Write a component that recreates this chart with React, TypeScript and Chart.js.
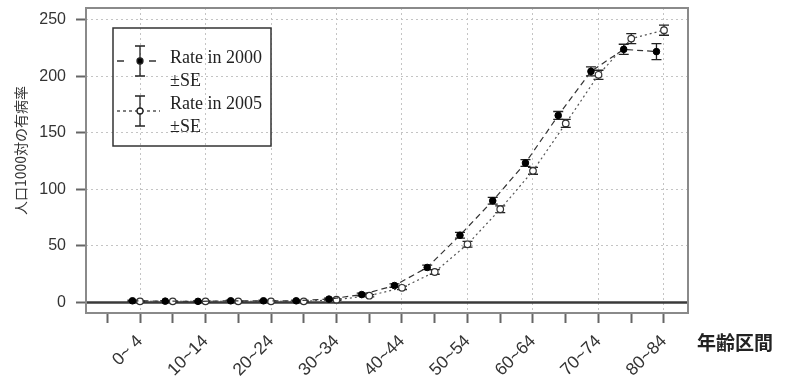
import React, { useEffect, useRef } from "react";
import { Chart, registerables } from "chart.js";

Chart.register(...registerables);

// ---- data ----
const ageGroups = [
  "0~ 4", "5~ 9", "10~14", "15~19", "20~24", "25~29", "30~34", "35~39", "40~44",
  "45~49", "50~54", "55~59", "60~64", "65~69", "70~74", "75~79", "80~84",
];
const rate2000 = [1.5, 1.2, 1.0, 1.5, 1.5, 1.5, 3.0, 7.0, 15.0, 31.0, 59.5, 90.0, 123.5, 165.5, 204.5, 224.0, 222.0];
const se2000 = [0.5, 0.4, 0.4, 0.5, 0.5, 0.6, 0.8, 1.2, 1.5, 2.0, 2.5, 3.0, 3.0, 3.5, 4.0, 4.5, 7.0];
const rate2005 = [1.0, 1.0, 1.0, 1.0, 1.0, 1.0, 2.5, 6.0, 13.0, 27.0, 51.5, 82.5, 116.5, 158.5, 201.5, 233.5, 241.0];
const se2005 = [0.4, 0.4, 0.4, 0.4, 0.4, 0.5, 0.7, 1.0, 1.5, 2.0, 2.5, 3.0, 3.0, 3.5, 4.0, 4.5, 4.5];
const yTickValues = [0, 50, 100, 150, 200, 250];
const legendLabels = ["Rate in 2000", "±SE", "Rate in 2005", "±SE"];
const xTitle = "年齢区間";
const yTitle = "人口1000対の有病率";
const offset2000 = -0.23;

const decorPlugin = {
  id: "decor",
  beforeDatasetsDraw(chart: any) {
    const { ctx, chartArea: a, scales } = chart;
    const x = scales.x;
    const y = scales.y;
    ctx.save();
    // zero line
    const y0 = y.getPixelForValue(0);
    ctx.strokeStyle = "#3a3a3a";
    ctx.lineWidth = 2.5;
    ctx.beginPath();
    ctx.moveTo(a.left, y0);
    ctx.lineTo(a.right, y0);
    ctx.stroke();
    // error bars
    chart.data.datasets.forEach((ds: any) => {
      const se: number[] = ds.se;
      ds.data.forEach((p: any, i: number) => {
        const px = x.getPixelForValue(p.x);
        const top = y.getPixelForValue(p.y + se[i]);
        const bot = y.getPixelForValue(p.y - se[i]);
        ctx.strokeStyle = "#222";
        ctx.lineWidth = 1.3;
        ctx.setLineDash([]);
        ctx.beginPath();
        ctx.moveTo(px, top);
        ctx.lineTo(px, bot);
        ctx.moveTo(px - 5, top);
        ctx.lineTo(px + 5, top);
        ctx.moveTo(px - 5, bot);
        ctx.lineTo(px + 5, bot);
        ctx.stroke();
      });
    });
    ctx.restore();
  },
  afterDraw(chart: any) {
    const { ctx, chartArea: a } = chart;
    ctx.save();
    // frame
    ctx.strokeStyle = "#8a8a8a";
    ctx.lineWidth = 2;
    ctx.strokeRect(a.left, a.top, a.right - a.left, a.bottom - a.top);

    // legend
    const lx = a.left + 27;
    const ly = a.top + 20;
    ctx.strokeStyle = "#333";
    ctx.lineWidth = 1.5;
    ctx.strokeRect(lx, ly, 158, 118);

    const drawSymbol = (cx: number, cy: number, dash: number[], filled: boolean, color: string) => {
      ctx.save();
      ctx.strokeStyle = color;
      ctx.lineWidth = 1.3;
      ctx.setLineDash(dash);
      ctx.beginPath();
      ctx.moveTo(cx - 23, cy);
      ctx.lineTo(cx + 20, cy);
      ctx.stroke();
      ctx.setLineDash([]);
      ctx.strokeStyle = "#222";
      ctx.beginPath();
      ctx.moveTo(cx, cy - 15);
      ctx.lineTo(cx, cy + 15);
      ctx.moveTo(cx - 5, cy - 15);
      ctx.lineTo(cx + 5, cy - 15);
      ctx.moveTo(cx - 5, cy + 15);
      ctx.lineTo(cx + 5, cy + 15);
      ctx.stroke();
      ctx.beginPath();
      ctx.arc(cx, cy, 3, 0, Math.PI * 2);
      ctx.fillStyle = filled ? "#000" : "#fff";
      ctx.fill();
      ctx.stroke();
      ctx.restore();
    };
    drawSymbol(lx + 27, ly + 33, [7, 25], true, "#333");
    drawSymbol(lx + 27, ly + 83, [3, 3], false, "#555");

    ctx.fillStyle = "#222";
    ctx.font = "18px 'Liberation Serif', serif";
    ctx.textAlign = "left";
    ctx.textBaseline = "middle";
    const offs = [30, 53, 76, 99];
    legendLabels.forEach((t, i) => ctx.fillText(t, lx + 57, ly + offs[i]));

    // x title
    ctx.fillStyle = "#222";
    ctx.font = "bold 19px 'Noto Sans CJK JP', sans-serif";
    ctx.textAlign = "left";
    ctx.textBaseline = "middle";
    ctx.fillText(xTitle, a.right + 9, a.bottom + 30);

    // y title
    ctx.save();
    ctx.translate(a.left - 65, (a.top + a.bottom) / 2 - 10);
    ctx.rotate(-Math.PI / 2);
    ctx.font = "14px 'Noto Sans CJK JP', sans-serif";
    ctx.fillStyle = "#333";
    ctx.textAlign = "center";
    ctx.textBaseline = "middle";
    ctx.fillText(yTitle, 0, 0);
    ctx.restore();

    ctx.restore();
  },
};

export default function App() {
  const ref = useRef<HTMLCanvasElement | null>(null);
  useEffect(() => {
    if (!ref.current) return;
    const chart = new Chart(ref.current, {
      type: "line",
      data: {
        datasets: [
          {
            label: "Rate in 2000",
            data: rate2000.map((v, i) => ({ x: i + 1 + offset2000, y: v })),
            se: se2000,
            borderColor: "#333",
            borderWidth: 1.2,
            borderDash: [6, 4],
            pointRadius: 3.3,
            pointBackgroundColor: "#000",
            pointBorderColor: "#000",
            pointBorderWidth: 1,
            tension: 0,
          } as any,
          {
            label: "Rate in 2005",
            data: rate2005.map((v, i) => ({ x: i + 1, y: v })),
            se: se2005,
            borderColor: "#555",
            borderWidth: 1.2,
            borderDash: [2, 3],
            pointRadius: 3.3,
            pointBackgroundColor: "#fff",
            pointBorderColor: "#333",
            pointBorderWidth: 1.2,
            tension: 0,
          } as any,
        ],
      },
      options: {
        animation: false,
        responsive: false,
        layout: { padding: { left: 0, top: 8, right: 99, bottom: 0 } },
        plugins: { legend: { display: false }, tooltip: { enabled: false } },
        scales: {
          x: {
            type: "linear",
            min: -0.649,
            max: 17.733,
            afterBuildTicks: (s: any) => {
              s.ticks = ageGroups.concat([""]).map((_, i) => ({ value: i }));
            },
            afterFit: (s: any) => {
              s.height = 75;
              s.paddingLeft = 0;
              s.paddingRight = 0;
            },
            ticks: {
              autoSkip: false,
              minRotation: 45,
              maxRotation: 45,
              padding: 8,
              color: "#333",
              font: { family: "'Liberation Sans', Arial, sans-serif", size: 17.5 },
              callback: (v: any) => (v % 2 === 1 ? ageGroups[v - 1] : ""),
            },
            grid: {
              color: (c: any) => (c.tick && c.tick.value % 2 === 1 ? "#c4c4c4" : "rgba(0,0,0,0)"),
              lineWidth: 1,
              tickLength: 10,
              tickColor: "#666",
              tickWidth: 2,
            },
            border: { display: false, dash: [2, 3] },
          } as any,
          y: {
            type: "linear",
            min: -9.3,
            max: 260.6,
            afterBuildTicks: (s: any) => {
              s.ticks = yTickValues.map((v) => ({ value: v }));
            },
            afterFit: (s: any) => {
              s.width = 86;
              s.paddingTop = 0;
              s.paddingBottom = 0;
            },
            ticks: {
              padding: 10,
              color: "#333",
              font: { family: "'Liberation Sans', Arial, sans-serif", size: 16 },
            },
            grid: {
              color: (c: any) => (c.tick && c.tick.value === 0 ? "rgba(0,0,0,0)" : "#c4c4c4"),
              lineWidth: 1,
              tickLength: 10,
              tickColor: "#666",
              tickWidth: 2,
            },
            border: { display: false, dash: [2, 3] },
          } as any,
        },
      },
      plugins: [decorPlugin],
    } as any);
    return () => chart.destroy();
  }, []);
  return (
    <div style={{ position: "fixed", left: 0, top: 0, width: 787, height: 388, background: "#fff" }}>
      <canvas ref={ref} width={787} height={388} style={{ display: "block" }} />
    </div>
  );
}
